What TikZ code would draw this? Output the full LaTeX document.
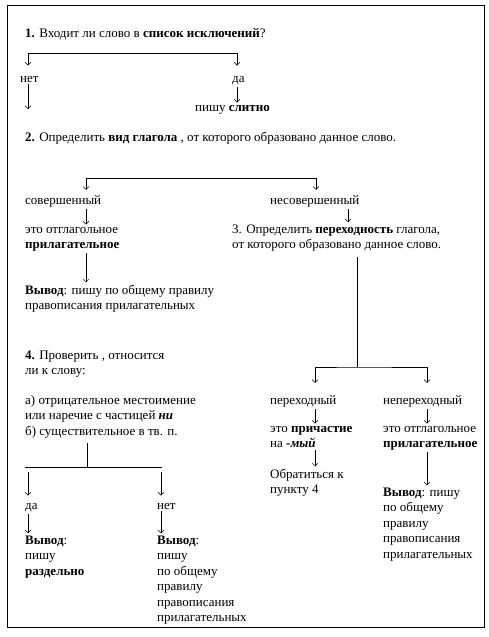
\documentclass[tikz,border=0pt]{standalone}
\usepackage{fontspec}
\setmainfont{Liberation Serif}
\usetikzlibrary{arrows.meta}

\begin{document}
\begin{tikzpicture}[x=1pt,y=-1pt]
  \tikzstyle{txt}=[inner xsep=0pt,inner ysep=2pt,anchor=base west,align=left,font=\fontsize{13}{15.5}\selectfont]
  \tikzstyle{more}=[yshift=-#1*15.5pt]
  \tikzstyle{ln}=[line width=0.5pt]
  \tikzstyle{arr}=[ln,-{Straight Barb[length=3pt,width=6pt]}]
  \tikzstyle{arrs}=[ln,{Straight Barb[length=3pt,width=6pt]}-{Straight Barb[length=3pt,width=6pt]}]
  \useasboundingbox (0,0) rectangle (489,637);
  \draw[line width=1pt] (7,5) rectangle (484,627);
  % columns of the arrows
  \coordinate (xa) at (28,0);
  \coordinate (xb) at (237,53);
  \coordinate (xc) at (86,0);
  \coordinate (xd) at (348,0);
  \coordinate (xe) at (315,0);
  \coordinate (xf) at (427,0);
  \coordinate (xh) at (161,0);
  \coordinate (b2) at (316,178);
  \coordinate (t3) at (357,367);
  \coordinate (t4) at (87,467);
  \coordinate (t4l) at (25,467);
  \coordinate (t4r) at (162,467);
  \coordinate (nob) at (28,109);
  % texts
  \node[txt] (q1) at (25,37) {\textbf{1.} Входит ли слово в \textbf{список исключений}?};
  \node[txt] (no1) at (20,82) {нет};
  \node[txt] (yes1) at (232,82) {да};
  \node[txt] (fused) at (195,111) {пишу \textbf{слитно}};
  \node[txt] (q2) at (25,141) {\textbf{2.} Определить \textbf{вид глагола} , от которого образовано данное слово.};
  \node[txt] (perf) at (25,204) {совершенный};
  \node[txt] (imperf) at (270,204) {несовершенный};
  \node[txt,more=1] (adj1) at (25,233) {это отглагольное\\\textbf{прилагательное}};
  \node[txt,more=1] (res1) at (25,294) {\textbf{Вывод}: пишу по общему правилу\\правописания прилагательных};
  \node[txt,more=1] (q3) at (232,233) {3. Определить \textbf{переходность} глагола,\\от которого образовано данное слово.};
  \node[txt,more=1] (q4) at (25,359) {\textbf{4.} Проверить , относится\\ли к слову:};
  \node[txt,more=2] (cases) at (25,404) {а) отрицательное местоимение\\или наречие с частицей \textbf{\textit{ни}}\\б) существительное в тв. п.};
  \node[txt] (trans) at (270,404) {переходный};
  \node[txt] (intrans) at (383,404) {непереходный};
  \node[txt,more=1] (part) at (270,432) {это \textbf{причастие}\\на \textbf{\textit{-мый}}};
  \node[txt,more=1] (goto) at (270,478) {Обратиться к\\пункту 4};
  \node[txt,more=1] (adj2) at (383,432) {это отглагольное\\\textbf{прилагательное}};
  \node[txt,more=4] (res2) at (383,496) {\textbf{Вывод}: пишу\\по общему\\правилу\\правописания\\прилагательных};
  \node[txt] (yes4) at (25,509) {да};
  \node[txt] (no4) at (157,509) {нет};
  \node[txt,more=2] (res3) at (25,544) {\textbf{Вывод}:\\пишу\\\textbf{раздельно}};
  \node[txt,more=5] (res4) at (157,544) {\textbf{Вывод}:\\пишу\\по общему\\правилу\\правописания\\прилагательных};
  % connectors
  \draw[arrs,shorten <=8pt,shorten >=8pt] (no1.north -| xa) |- (xb) -- (yes1.north -| xb);
  \draw[arr] (no1.south -| xa) -- (nob);
  \draw[arr] (yes1.south -| xb) -- (fused.north -| xb);
  \draw[arrs,shorten <=3pt,shorten >=3pt] (perf.north -| xc) |- (b2) -- (imperf.north -| b2);
  \draw[arr] (perf.south -| xc) -- (adj1.north -| xc);
  \draw[arr] (adj1.south -| xc) -- (res1.north -| xc);
  \draw[arr] (imperf.south -| xd) -- (q3.north -| xd);
  \draw[ln,shorten <=4pt] (q3.south -| t3) -- (t3);
  \draw[arrs,shorten <=10pt,shorten >=10pt] (trans.north -| xe) |- (t3) -| (intrans.north -| xf);
  \draw[arr] (trans.south -| xe) -- (part.north -| xe);
  \draw[arr] (part.south -| xe) -- (goto.north -| xe);
  \draw[arr] (intrans.south -| xf) -- (adj2.north -| xf);
  \draw[arr] (adj2.south -| xf) -- (res2.north -| xf);
  \draw[ln,shorten <=3pt] (cases.south -| t4) -- (t4);
  \draw[ln] (t4l) -- (t4r);
  \draw[arr,shorten <=5pt,shorten >=5pt] (t4 -| xa) -- (yes4.north -| xa);
  \draw[arr,shorten <=5pt,shorten >=5pt] (t4 -| xh) -- (no4.north -| xh);
  \draw[arr] (yes4.south -| xa) -- (res3.north -| xa);
  \draw[arr] (no4.south -| xh) -- (res4.north -| xh);
\end{tikzpicture}
\end{document}
